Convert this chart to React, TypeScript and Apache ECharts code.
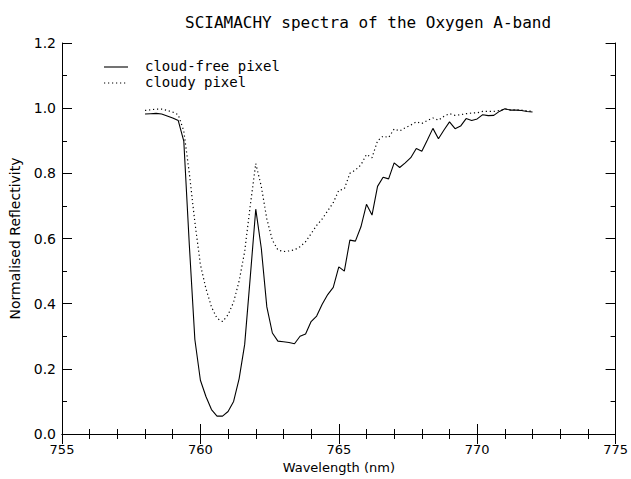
import React, { useEffect, useRef } from "react";
import * as echarts from "echarts";

const wavelengths: number[] = [
  758.0, 758.2, 758.4, 758.6, 758.8, 759.0, 759.2, 759.4, 759.6, 759.8,
  760.0, 760.2, 760.4, 760.6, 760.8, 761.0, 761.2, 761.4, 761.6, 761.8,
  762.0, 762.2, 762.4, 762.6, 762.8, 763.0, 763.2, 763.4, 763.6, 763.8,
  764.0, 764.2, 764.4, 764.6, 764.8, 765.0, 765.2, 765.4, 765.6, 765.8,
  766.0, 766.2, 766.4, 766.6, 766.8, 767.0, 767.2, 767.4, 767.6, 767.8,
  768.0, 768.2, 768.4, 768.6, 768.8, 769.0, 769.2, 769.4, 769.6, 769.8,
  770.0, 770.2, 770.4, 770.6, 770.8, 771.0, 771.2, 771.4, 771.6, 771.8,
  772.0,
];

const cloudFree: number[] = [
  0.982, 0.983, 0.984, 0.982, 0.976, 0.970, 0.962, 0.899, 0.58, 0.29,
  0.165, 0.115, 0.075, 0.055, 0.055, 0.069, 0.10, 0.17, 0.275, 0.48,
  0.69, 0.57, 0.39, 0.31, 0.285, 0.283, 0.281, 0.277, 0.30, 0.307,
  0.345, 0.362, 0.398, 0.428, 0.45, 0.513, 0.50, 0.595, 0.592, 0.636,
  0.705, 0.672, 0.76, 0.788, 0.783, 0.832, 0.818, 0.832, 0.848, 0.876,
  0.868, 0.902, 0.938, 0.906, 0.933, 0.958, 0.937, 0.945, 0.968, 0.962,
  0.967, 0.98, 0.977, 0.978, 0.99, 0.998, 0.994, 0.994, 0.993, 0.99,
  0.988,
];

const cloudy: number[] = [
  0.993, 0.995, 0.997, 0.997, 0.993, 0.988, 0.98, 0.93, 0.80, 0.65,
  0.52, 0.446, 0.39, 0.355, 0.345, 0.366, 0.405, 0.47, 0.56, 0.70,
  0.83, 0.76, 0.66, 0.595, 0.565, 0.56, 0.562, 0.565, 0.575, 0.59,
  0.615, 0.64, 0.66, 0.685, 0.71, 0.748, 0.752, 0.80, 0.81, 0.826,
  0.858, 0.848, 0.90, 0.914, 0.91, 0.936, 0.93, 0.94, 0.948, 0.958,
  0.953, 0.962, 0.97, 0.963, 0.975, 0.983, 0.978, 0.98, 0.983, 0.985,
  0.986, 0.99, 0.99, 0.99, 0.993, 0.997, 0.995, 0.995, 0.994, 0.992,
  0.99,
];

const legendLabels: string[] = ["cloud-free pixel", "cloudy pixel"];
const titleText = "SCIAMACHY spectra of the Oxygen A-band";
const xName = "Wavelength (nm)";
const yName = "Normalised Reflectivity";

const FONT = "DejaVu Sans";
const WIDE = "DejaVu Sans Mono";
const INK = "#000";

export default function App() {
  const ref = useRef<HTMLDivElement>(null);

  useEffect(() => {
    if (!ref.current) return;
    const chart = echarts.init(ref.current, null, { renderer: "svg" });

    const pairs = (ys: number[]) => wavelengths.map((x, i) => [x, ys[i]]);

    const axisCommon = {
      axisLine: { show: true, lineStyle: { color: INK, width: 1 } },
      axisTick: { show: true, inside: true, length: 10, lineStyle: { color: INK } },
      minorTick: { show: true, length: 5, lineStyle: { color: INK } },
      splitLine: { show: false },
      minorSplitLine: { show: false },
    };

    chart.setOption({
      animation: false,
      backgroundColor: "#fff",
      title: {
        text: titleText,
        left: 180,
        top: 9,
        textStyle: { fontFamily: WIDE, fontSize: 16, fontWeight: "normal", color: INK },
      },
      grid: { left: 60, right: 13, top: 43, bottom: 43 },
      xAxis: [
        {
          type: "value",
          min: 755,
          max: 775,
          interval: 5,
          position: "bottom",
          name: xName,
          nameLocation: "middle",
          nameGap: 27,
          nameTextStyle: { fontFamily: FONT, fontSize: 13, color: INK },
          axisLabel: { fontFamily: FONT, fontSize: 13, color: INK, margin: 9 },
          ...axisCommon,
          minorTick: { ...axisCommon.minorTick, splitNumber: 5 },
        },
        {
          type: "value",
          min: 755,
          max: 775,
          interval: 5,
          position: "top",
          axisLabel: { show: false },
          ...axisCommon,
          minorTick: { ...axisCommon.minorTick, splitNumber: 5 },
        },
      ],
      yAxis: [
        {
          type: "value",
          min: 0,
          max: 1.2,
          interval: 0.2,
          position: "left",
          name: yName,
          nameLocation: "middle",
          nameGap: 40,
          nameTextStyle: { fontFamily: FONT, fontSize: 14, color: INK },
          axisLabel: {
            fontFamily: FONT,
            fontSize: 14,
            color: INK,
            margin: 6,
            formatter: (v: number) => v.toFixed(1),
          },
          ...axisCommon,
          minorTick: { ...axisCommon.minorTick, splitNumber: 2 },
        },
        {
          type: "value",
          min: 0,
          max: 1.2,
          interval: 0.2,
          position: "right",
          axisLabel: { show: false },
          ...axisCommon,
          minorTick: { ...axisCommon.minorTick, splitNumber: 2 },
        },
      ],
      series: [
        {
          name: legendLabels[0],
          type: "line",
          data: pairs(cloudFree),
          showSymbol: false,
          symbol: "none",
          lineStyle: { color: INK, width: 1.1, type: "solid" },
        },
        {
          name: legendLabels[1],
          type: "line",
          data: pairs(cloudy),
          showSymbol: false,
          symbol: "none",
          lineStyle: { color: INK, width: 1.2, type: [1.2, 2.8] },
        },
      ],
      graphic: [
        {
          type: "line",
          shape: { x1: 104, y1: 67, x2: 128, y2: 67 },
          style: { stroke: INK, lineWidth: 1.1 },
        },
        {
          type: "line",
          shape: { x1: 104, y1: 83, x2: 128, y2: 83 },
          style: { stroke: INK, lineWidth: 1.2, lineDash: [1.2, 2.8] },
        },
        {
          type: "text",
          x: 145,
          y: 66,
          style: {
            text: legendLabels[0],
            fontFamily: WIDE,
            fontSize: 14,
            fill: INK,
            verticalAlign: "middle",
          },
        },
        {
          type: "text",
          x: 145,
          y: 82,
          style: {
            text: legendLabels[1],
            fontFamily: WIDE,
            fontSize: 14,
            fill: INK,
            verticalAlign: "middle",
          },
        },
      ],
    });

    return () => chart.dispose();
  }, []);

  return <div ref={ref} style={{ width: 631, height: 479, position: "fixed", left: 0, top: 0 }} />;
}
